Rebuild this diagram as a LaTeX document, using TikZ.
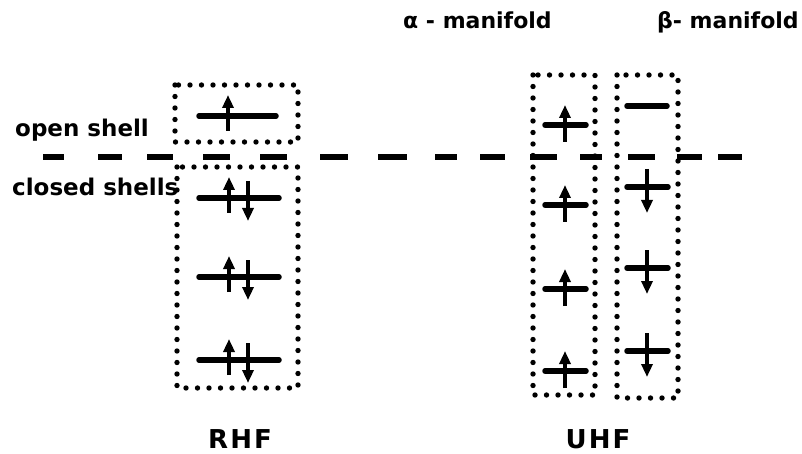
\documentclass[tikz,border=0pt]{standalone}
\usepackage{fontspec}
\setmainfont{DejaVu Sans}
\usetikzlibrary{arrows.meta}
\begin{document}
\begin{tikzpicture}[x=1pt,y=-1pt,
  dotbox/.style={draw, line width=5.4pt, line cap=round, dash pattern=on 0pt off 11.5pt},
  level/.style={line width=5.5pt, line cap=round},
  spin/.style={line width=4.4pt, -{Triangle[length=13pt,width=11pt]}},
  lbl/.style={font=\bfseries\fontsize{23}{26}\selectfont, inner sep=0pt},
  mlbl/.style={font=\bfseries\fontsize{22}{26}\selectfont, inner sep=0pt},
  big/.style={font=\bfseries\fontsize{26}{30}\selectfont, inner sep=0pt}]
\useasboundingbox (0,0) rectangle (802,454);
% dashed separator
\foreach \a/\b in {43/64,98/122,147/173,203/230,260/287,320/348,378/407,435/457,480/505,530/557,580/602,628/655,677/702,718/742}{
  \draw[line width=5.5pt] (\a,157) -- (\b,157);
}
% RHF boxes
\coordinate (o1) at (175,85); \coordinate (o2) at (298,142);
\draw[dotbox] (o1) rectangle (o2);
\coordinate (c1) at (177,167); \coordinate (c2) at (298,388);
\draw[dotbox] (c1) rectangle (c2);
% RHF levels
\coordinate (r0a) at (199,116); \coordinate (r0b) at (276,116);
\draw[level] (r0a) -- (r0b);
\coordinate (u0a) at (228,131); \coordinate (u0b) at (228,95);
\draw[spin] (u0a) -- (u0b);
\foreach \y in {198,277,360}{
  \draw[level] (199,\y) -- (279,\y);
  \draw[spin] (229,\y+15) -- (229,\y-21);
  \draw[spin] (248,\y-17) -- (248,\y+23);
}
% UHF boxes
\coordinate (a1) at (533,75); \coordinate (a2) at (595,395);
\draw[dotbox] (a1) rectangle (a2);
\coordinate (b1) at (617,75); \coordinate (b2) at (678,398);
\draw[dotbox] (b1) rectangle (b2);
\foreach \y in {125,205,289,371}{
  \draw[level] (545,\y) -- (586,\y);
  \draw[spin] (565,\y+17) -- (565,\y-20);
}
\draw[level] (627,106) -- (667,106);
\foreach \y in {187,268,351}{
  \draw[level] (627,\y) -- (668,\y);
  \draw[spin] (647,\y-18) -- (647,\y+26);
}
% labels
\node[lbl, anchor=base west] (os) at (15,137) {open shell};
\node[lbl, anchor=base west] (cs) at (12,196) {closed shells};
\node[big, anchor=base] (rhf) at (240,448) {R\hspace{0.08em}H\hspace{0.08em}F};
\node[big, anchor=base] (uhf) at (598,448) {U\hspace{0.08em}H\hspace{0.08em}F};
\node[mlbl, anchor=base west] (am) at (403,29) {α - manifold};
\node[mlbl, anchor=base west] (bm) at (657,29) {β- manifold};
\end{tikzpicture}
\end{document}
